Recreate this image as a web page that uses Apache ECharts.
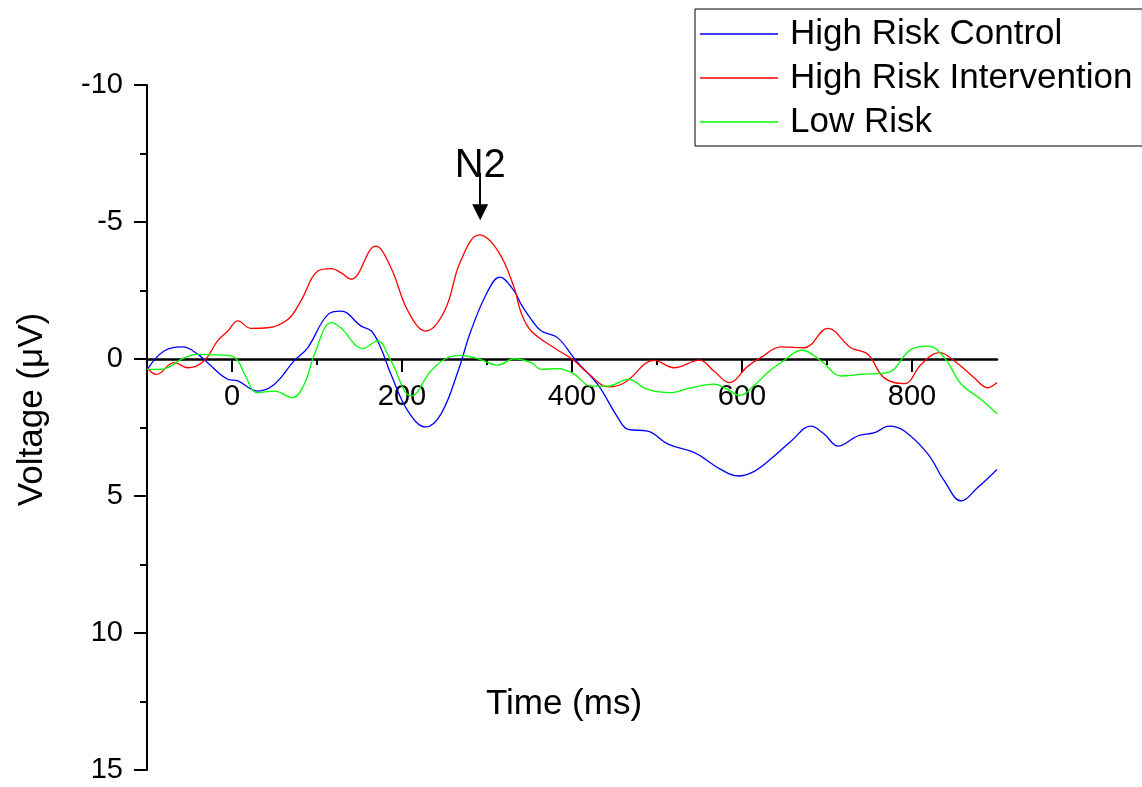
<!DOCTYPE html>
<html>
<head>
<meta charset="utf-8">
<script src="https://cdn.jsdelivr.net/npm/echarts@6/dist/echarts.min.js"></script>
<style>
  html, body { margin: 0; padding: 0; background: #fff; }
  #erpChart { width: 1142px; height: 787px; }
</style>
</head>
<body>
<div id="erpChart"></div>
<script>
// time (ms) and voltage (uV) per group, at the turning points of each curve
const controlTimes = [-100, -80, -58, -40, -29, -5, 7, 30, 50, 73, 89, 113, 128, 152, 164, 175, 187, 207, 228, 246,
  266, 281, 301, 315, 332, 340, 352, 364, 383, 405, 430, 454, 466, 489, 513, 544, 575, 595, 615, 638,
  658, 681, 697, 713, 736, 756, 773, 791, 819, 838, 858, 877, 900]
const controlVolts = [0.4, -0.29, -0.44, -0.17, 0.13, 0.74, 0.8, 1.17, 0.92, 0.07, -0.41, -1.63, -1.75, -1.2, -1.02, -0.41, 0.56, 1.9, 2.48, 2.0,
  0.44, -1.02, -2.48, -2.99, -2.48, -2.0, -1.45, -1.02, -0.78, 0.07, 0.92, 2.14, 2.57, 2.63, 3.11, 3.42, 4.03, 4.27, 4.09, 3.54,
  2.99, 2.45, 2.75, 3.18, 2.81, 2.69, 2.45, 2.63, 3.48, 4.45, 5.18, 4.7, 4.03]

const interventionTimes = [-100, -89, -68, -52, -33, -17, -5, 7, 22, 42, 66, 81, 101, 117, 128, 140, 169, 187, 207, 228,
  250, 269, 291, 313, 332, 340, 352, 379, 403, 418, 444, 462, 497, 520, 550, 567, 585, 607, 622, 646,
  673, 701, 728, 748, 767, 791, 811, 832, 850, 873, 889, 900]
const interventionVolts = [0.32, 0.56, 0.13, 0.32, 0.07, -0.66, -1.02, -1.39, -1.12, -1.14, -1.45, -2.12, -3.21, -3.3, -3.15, -2.91, -4.12, -3.33, -1.75, -1.02,
  -1.75, -3.58, -4.53, -3.94, -2.6, -1.7, -1.02, -0.41, 0.07, 0.5, 1.02, 0.86, 0.05, 0.32, 0.04, 0.44, 0.86, 0.26, -0.05, -0.44,
  -0.41, -1.12, -0.41, -0.17, 0.68, 0.9, 0.19, -0.23, 0.07, 0.68, 1.05, 0.86]

const lowRiskTimes = [-100, -84, -56, -40, -17, -1, 7, 15, 30, 50, 71, 85, 97, 117, 128, 154, 171, 187, 211, 234,
  250, 267, 289, 313, 332, 352, 364, 383, 403, 422, 442, 466, 489, 517, 536, 567, 583, 597, 615, 630,
  646, 671, 693, 717, 740, 771, 799, 819, 838, 858, 881, 900]
const lowRiskVolts = [0.38, 0.38, -0.05, -0.17, -0.15, -0.11, 0.07, 0.56, 1.23, 1.17, 1.41, 0.92, -0.17, -1.33, -1.14, -0.38, -0.66, 0.07, 1.35, 0.44,
  0.01, -0.13, -0.01, 0.22, -0.01, 0.13, 0.38, 0.35, 0.56, 0.99, 0.99, 0.74, 1.11, 1.23, 1.08, 0.92, 1.11, 1.33, 0.95, 0.5,
  0.13, -0.32, 0.07, 0.62, 0.56, 0.5, -0.35, -0.47, -0.05, 0.92, 1.47, 2.0]

// axis ticks
const xLabelTicks = [0, 200, 400, 600, 800]
const xMinorTicks = [100, 300, 500, 700]

// N2 arrow (time, voltage)
const n2Time = 292
const n2ArrowTop = -6.8
const n2ArrowHead = -5.36
const n2LabelAt = -7.05

const fontFamily = '"Liberation Sans", Arial, sans-serif'
// x axis sits on 0 uV: move it up from the grid bottom (grid 85..770, 0 at 359)
const xAxisShift = -411

function pairs (times, volts) {
  return times.map((t, i) => [t, volts[i]])
}

let chart = echarts.init(document.getElementById('erpChart'))
let options = {
  animation: false,
  textStyle: { fontFamily: fontFamily },
  grid: {
    left: 147,
    right: 145,
    top: 85,
    bottom: 17,
    containLabel: false,
    outerBoundsMode: 'none'
  },
  legend: {
    orient: 'vertical',
    left: 695,
    top: 9,
    padding: [5, 10, 4, 5],
    borderColor: '#000',
    borderWidth: 1,
    itemGap: 4,
    itemWidth: 78,
    itemHeight: 1.5,
    icon: 'rect',
    textStyle: {
      fontSize: 35,
      lineHeight: 40,
      color: '#000',
      padding: [0, 0, 0, 7]
    },
    data: ['High Risk Control', 'High Risk Intervention', 'Low Risk']
  },
  xAxis: [
    {
      type: 'value',
      min: -100,
      max: 900,
      interval: 100,
      offset: xAxisShift,
      name: 'Time (ms)',
      nameLocation: 'middle',
      nameGap: 328,
      nameTextStyle: { fontSize: 35, color: '#000', padding: [0, 16, 0, 0] },
      axisLine: { onZero: false, lineStyle: { color: '#000', width: 2.5 } },
      axisTick: { customValues: xLabelTicks, length: 13, lineStyle: { color: '#000', width: 2 } },
      axisLabel: { customValues: xLabelTicks, fontSize: 29, color: '#000', margin: 23 },
      splitLine: { show: false }
    },
    {
      // short ticks half way between the labelled ones
      type: 'value',
      min: -100,
      max: 900,
      position: 'bottom',
      offset: xAxisShift,
      axisLine: { show: false, onZero: false },
      axisTick: { customValues: xMinorTicks, length: 6, lineStyle: { color: '#000', width: 2 } },
      axisLabel: { show: false },
      splitLine: { show: false }
    }
  ],
  yAxis: {
    type: 'value',
    inverse: true,
    min: -10,
    max: 15,
    interval: 5,
    name: 'Voltage (μV)',
    nameLocation: 'middle',
    nameGap: 97,
    nameTextStyle: { fontSize: 35, color: '#000', padding: [0, 0, 0, 36] },
    axisLine: { show: true, onZero: false, lineStyle: { color: '#000', width: 2 } },
    axisTick: { length: 13, lineStyle: { color: '#000', width: 2 } },
    minorTick: { show: true, splitNumber: 2, length: 7, lineStyle: { color: '#000', width: 2 } },
    axisLabel: { fontSize: 29, color: '#000', margin: 24 },
    splitLine: { show: false }
  },
  series: [
    {
      name: 'High Risk Control',
      type: 'line',
      smooth: 0.4,
      symbol: 'none',
      color: '#0000ff',
      lineStyle: { width: 1.3 },
      data: pairs(controlTimes, controlVolts)
    },
    {
      name: 'High Risk Intervention',
      type: 'line',
      smooth: 0.4,
      symbol: 'none',
      color: '#ff0000',
      lineStyle: { width: 1.3 },
      data: pairs(interventionTimes, interventionVolts),
      markLine: {
        silent: true,
        symbol: ['none', 'triangle'],
        symbolSize: 16,
        lineStyle: { color: '#000', width: 2, type: 'solid' },
        itemStyle: { color: '#000' },
        label: { show: false },
        emphasis: { disabled: true },
        data: [[{ coord: [n2Time, n2ArrowTop] }, { coord: [n2Time, n2ArrowHead] }]]
      },
      markPoint: {
        silent: true,
        symbol: 'circle',
        symbolSize: 0,
        label: { show: true, position: 'inside', formatter: 'N2', fontSize: 40, color: '#000' },
        emphasis: { disabled: true },
        data: [{ coord: [n2Time, n2LabelAt] }]
      }
    },
    {
      name: 'Low Risk',
      type: 'line',
      smooth: 0.4,
      symbol: 'none',
      color: '#00ff00',
      lineStyle: { width: 1.3 },
      data: pairs(lowRiskTimes, lowRiskVolts)
    }
  ]
}
chart.setOption(options)
</script>
</body>
</html>
